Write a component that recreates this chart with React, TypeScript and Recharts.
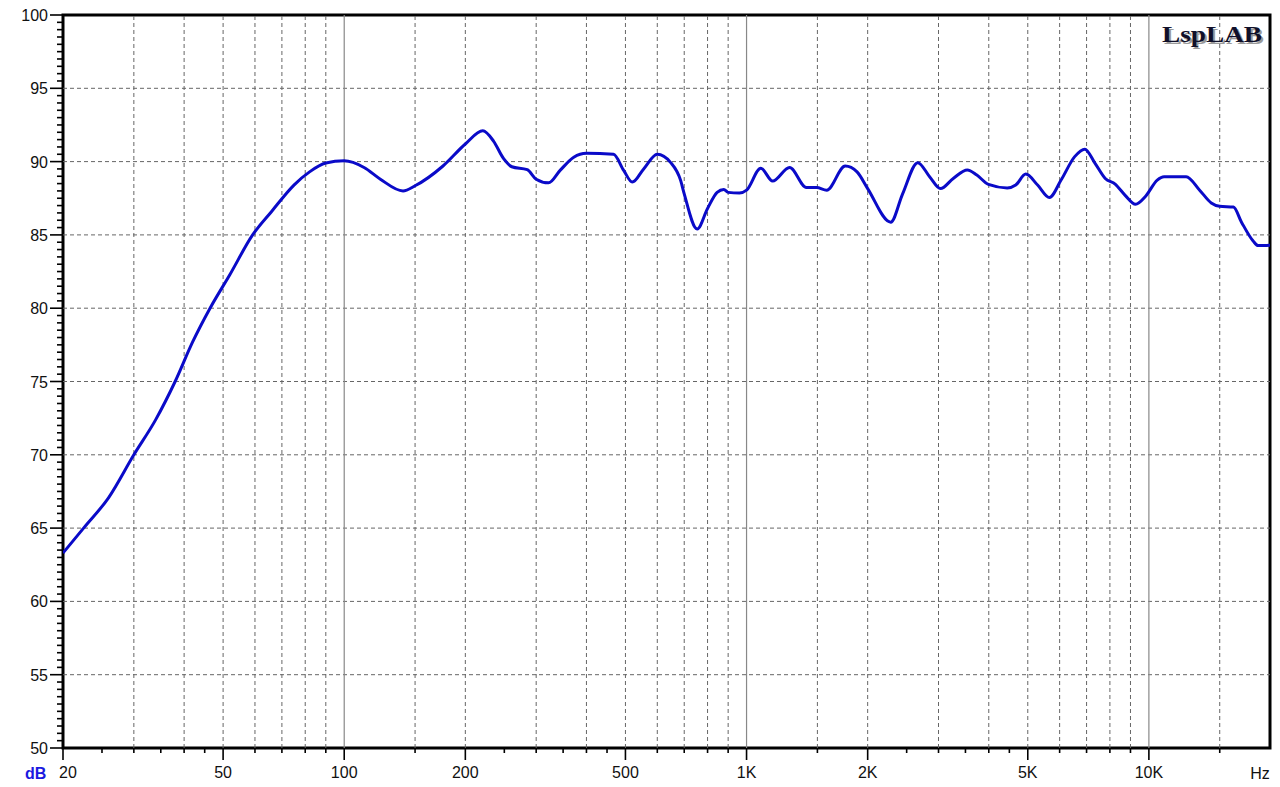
import React from 'react';
import { LineChart, Line, XAxis, YAxis, ReferenceLine, ReferenceArea } from 'recharts';

const freqs = [
  20, 22.5, 26, 30, 34, 38, 42, 46.4, 52, 59.2, 66, 75, 82, 90, 100,
  112, 123, 140, 150, 176, 200, 221, 235, 249, 261, 285, 300, 322, 344, 372, 400,
  467, 495, 520, 555, 600, 647, 686, 700, 754, 800, 845, 878, 900, 960, 1000,
  1085, 1161, 1279, 1409, 1493, 1582, 1759, 1882, 2000, 2282, 2443, 2664, 2851,
  3034, 3264, 3538, 3736, 3992, 4445, 4667, 4944, 5290, 5659, 6050, 6540, 6930,
  7342, 7790, 8244, 8730, 9265, 9815, 10490, 10910, 12380, 13370, 14290, 15000,
  16220, 16990, 18140, 18680, 20000,
];
const levels = [
  63.3, 65.0, 67.1, 70.0, 72.4, 75.0, 77.7, 80.0, 82.3, 85.0, 86.6, 88.4, 89.3, 89.9, 90.05,
  89.6, 88.8, 88.0, 88.35, 89.7, 91.2, 92.1, 91.4, 90.2, 89.65, 89.45, 88.8, 88.55, 89.4, 90.3, 90.57,
  90.5, 89.4, 88.6, 89.5, 90.5, 89.95, 88.7, 87.8, 85.4, 86.8, 87.9, 88.1, 87.9, 87.85, 88.05,
  89.55, 88.67, 89.6, 88.23, 88.23, 88.05, 89.7, 89.3, 88.16, 85.87, 87.8, 89.93, 88.97,
  88.16, 88.85, 89.43, 89.08, 88.44, 88.2, 88.4, 89.15, 88.4, 87.55, 88.74, 90.34, 90.85,
  89.9, 88.85, 88.46, 87.7, 87.09, 87.64, 88.74, 88.97, 88.97, 88.05, 87.18, 86.95,
  86.9, 85.87, 84.6, 84.27, 84.3,
];

const xLabelTicks = [20, 50, 100, 200, 500, 1000, 2000, 5000, 10000];
const xLabelText = ['20', '50', '100', '200', '500', '1K', '2K', '5K', '10K'];
const xMinorTicks = [
  25, 30, 35, 40, 45, 60, 70, 80, 90, 150, 250, 300, 350, 400, 450, 600, 700, 800, 900,
  1500, 2500, 3000, 3500, 4000, 4500, 6000, 7000, 8000, 9000, 15000,
];
const dashedGridX = [
  30, 40, 50, 60, 70, 80, 90, 150, 200, 300, 400, 500, 600, 700, 800, 900,
  1500, 2000, 3000, 4000, 5000, 6000, 7000, 8000, 9000, 15000,
];
const solidGridX = [100, 1000, 10000];
const yGridLines = [55, 60, 65, 70, 75, 80, 85, 90, 95];
const yAllTicks = Array.from({ length: 101 }, (_, i) => 50 + i * 0.5);

const data = freqs.map((f, i) => ({ f, v: levels[i] }));
const allXTicks = [...xLabelTicks, ...xMinorTicks].sort((a, b) => a - b);

const FONT = "Arial, 'Liberation Sans', sans-serif";

const XTick = (props: any) => {
  const { x, y, payload } = props;
  const v = payload.value;
  const idx = xLabelTicks.indexOf(v);
  const len = idx >= 0 ? 12 : 5;
  return (
    <g>
      <line x1={x} y1={y} x2={x} y2={y + len} stroke="#000" strokeWidth={1.6} />
      {idx >= 0 && (
        <text x={v === 20 ? x + 5 : x} y={y + 30} textAnchor="middle" fontSize={16} fontFamily={FONT} fill="#111">
          {xLabelText[idx]}
        </text>
      )}
    </g>
  );
};

const YTick = (props: any) => {
  const { x, y, payload } = props;
  const v = payload.value;
  const major = Math.abs(v % 5) < 1e-6;
  return (
    <g>
      <line x1={x - (major ? 13 : 6)} y1={y} x2={x} y2={y} stroke="#000" strokeWidth={1.6} />
      {major && (
        <text x={x - 15} y={y + 6} textAnchor="end" fontSize={16} fontFamily={FONT} fill="#111">
          {v}
        </text>
      )}
    </g>
  );
};

export default function App() {
  return (
    <div style={{ position: 'absolute', left: 0, top: 0, width: 1280, height: 787, background: '#fff' }}>
      <LineChart width={1280} height={787} data={data} margin={{ top: 15, right: 10, bottom: 0, left: 0 }}>
        <XAxis
          dataKey="f"
          type="number"
          scale="log"
          domain={[20, 20000]}
          ticks={allXTicks}
          interval={0}
          tick={<XTick />}
          tickSize={0}
          tickMargin={0}
          tickLine={false}
          axisLine={false}
          height={39}
          allowDataOverflow
        />
        <YAxis
          type="number"
          domain={[50, 100]}
          ticks={yAllTicks}
          interval={0}
          tick={<YTick />}
          tickSize={0}
          tickMargin={0}
          tickLine={false}
          axisLine={false}
          width={63}
          allowDataOverflow
        />
        {yGridLines.map((v) => (
          <ReferenceLine key={'h' + v} y={v} stroke="#666" strokeDasharray="4 3" strokeWidth={1} />
        ))}
        {dashedGridX.map((v) => (
          <ReferenceLine key={'v' + v} x={v} stroke="#666" strokeDasharray="4 3" strokeWidth={1} />
        ))}
        {solidGridX.map((v) => (
          <ReferenceLine key={'s' + v} x={v} stroke="#888" strokeWidth={1.2} />
        ))}
        <ReferenceArea x1={20} x2={20000} y1={50} y2={100} fill="none" stroke="#000" strokeWidth={3} fillOpacity={0} />
        <Line
          type="monotone"
          dataKey="v"
          stroke="#0a0ac8"
          strokeWidth={3}
          dot={false}
          isAnimationActive={false}
        />
      </LineChart>
      <svg width={1280} height={787} style={{ position: 'absolute', left: 0, top: 0, pointerEvents: 'none' }}>
        <text x={1164} y={44} fontFamily="'Liberation Serif', 'Times New Roman', serif" fontWeight="bold" fontSize={23} fill="#9a9a9a" textLength={100} lengthAdjust="spacingAndGlyphs">LspLAB</text>
        <text x={1162} y={42} fontFamily="'Liberation Serif', 'Times New Roman', serif" fontWeight="bold" fontSize={23} fill="#10102a" textLength={100} lengthAdjust="spacingAndGlyphs">LspLAB</text>
        <text x={25} y={779} fontFamily={FONT} fontWeight="bold" fontSize={16} fill="#1a1ae0">dB</text>
        <text x={1260} y={779} textAnchor="middle" fontFamily={FONT} fontSize={16} fill="#111">Hz</text>
      </svg>
    </div>
  );
}
